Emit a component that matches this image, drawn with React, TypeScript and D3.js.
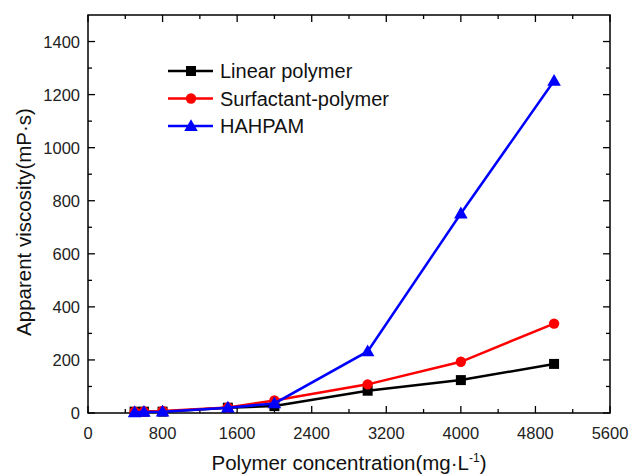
import React, { useRef, useEffect } from "react";
import * as d3 from "d3";

const concentrations = [500, 600, 800, 1500, 2000, 3000, 4000, 5000];
const linearPolymer = [5, 5, 5, 20, 26, 84, 124, 185];
const surfactantPolymer = [5, 6, 8, 21, 47, 108, 193, 337];
const hahpam = [3, 4, 5, 20, 36, 232, 752, 1252];
const seriesNames = ["Linear polymer", "Surfactant-polymer", "HAHPAM"];
const seriesColors = ["#000000", "#ff0000", "#0000ff"];
const seriesShapes = ["square", "circle", "triangle"];
const xTicks = [0, 800, 1600, 2400, 3200, 4000, 4800, 5600];
const yTicks = [0, 200, 400, 600, 800, 1000, 1200, 1400];

const W = 630;
const H = 476;
const margin = { top: 15, right: 20, bottom: 63, left: 88 };
const FONT = "Liberation Sans, Arial, sans-serif";

const App = () => {
  const ref = useRef<SVGSVGElement>(null);

  useEffect(() => {
    const svg = d3.select(ref.current);
    svg.selectAll("*").remove();

    const x = d3.scaleLinear().domain([0, 5600]).range([margin.left, W - margin.right]);
    const y = d3.scaleLinear().domain([0, 1500]).range([H - margin.bottom, margin.top]);
    const x0 = margin.left, x1 = W - margin.right;
    const y0 = H - margin.bottom, y1 = margin.top;

    // frame
    svg.append("rect")
      .attr("x", x0).attr("y", y1)
      .attr("width", x1 - x0).attr("height", y0 - y1)
      .attr("fill", "none").attr("stroke", "#000").attr("stroke-width", 1.5);

    const xMinor = d3.range(400, 5600, 800);
    const yMinor = d3.range(100, 1500, 200);

    // inward ticks on all four sides
    const tickG = svg.append("g").attr("stroke", "#000").attr("stroke-width", 1.3);
    xTicks.forEach((t) => {
      tickG.append("line").attr("x1", x(t)).attr("x2", x(t)).attr("y1", y0).attr("y2", y0 - 7);
      tickG.append("line").attr("x1", x(t)).attr("x2", x(t)).attr("y1", y1).attr("y2", y1 + 7);
    });
    xMinor.forEach((t) => {
      tickG.append("line").attr("x1", x(t)).attr("x2", x(t)).attr("y1", y0).attr("y2", y0 - 4);
      tickG.append("line").attr("x1", x(t)).attr("x2", x(t)).attr("y1", y1).attr("y2", y1 + 4);
    });
    yTicks.forEach((t) => {
      tickG.append("line").attr("x1", x0).attr("x2", x0 + 7).attr("y1", y(t)).attr("y2", y(t));
      tickG.append("line").attr("x1", x1).attr("x2", x1 - 7).attr("y1", y(t)).attr("y2", y(t));
    });
    yMinor.forEach((t) => {
      tickG.append("line").attr("x1", x0).attr("x2", x0 + 4).attr("y1", y(t)).attr("y2", y(t));
      tickG.append("line").attr("x1", x1).attr("x2", x1 - 4).attr("y1", y(t)).attr("y2", y(t));
    });

    // tick labels
    svg.append("g").selectAll("text").data(xTicks).join("text")
      .attr("x", (d) => x(d)).attr("y", y0 + 26)
      .attr("text-anchor", "middle")
      .attr("font-family", FONT).attr("font-size", 16.5).attr("fill", "#222")
      .text((d) => d);
    svg.append("g").selectAll("text").data(yTicks).join("text")
      .attr("x", x0 - 8).attr("y", (d) => y(d) + 6)
      .attr("text-anchor", "end")
      .attr("font-family", FONT).attr("font-size", 16.5).attr("fill", "#222")
      .text((d) => d);

    // axis titles
    const xt = svg.append("text")
      .attr("x", (x0 + x1) / 2).attr("y", H - 6)
      .attr("text-anchor", "middle")
      .attr("font-family", FONT).attr("font-size", 20.5).attr("fill", "#111");
    xt.append("tspan").text("Polymer concentration(mg·L");
    xt.append("tspan").attr("dy", -8).attr("font-size", 12).text("-1");
    xt.append("tspan").attr("dy", 8).text(")");

    svg.append("text")
      .attr("transform", `translate(31,${(y0 + y1) / 2 + 8}) rotate(-90)`)
      .attr("text-anchor", "middle")
      .attr("font-family", FONT).attr("font-size", 20.5).attr("fill", "#111")
      .text("Apparent viscosity(mP·s)");

    const series = [linearPolymer, surfactantPolymer, hahpam];
    const line = d3.line<number>().x((_, i) => x(concentrations[i])).y((d) => y(d));

    const symbolFor = (shape: string) => {
      if (shape === "square") return d3.symbol(d3.symbolSquare, 100);
      if (shape === "circle") return d3.symbol(d3.symbolCircle, 85);
      return d3.symbol(d3.symbolTriangle, 80);
    };

    series.forEach((vals, si) => {
      const g = svg.append("g");
      g.append("path").datum(vals)
        .attr("fill", "none").attr("stroke", seriesColors[si]).attr("stroke-width", 2.5)
        .attr("d", line);
      g.selectAll("path.pt").data(vals).join("path")
        .attr("class", "pt")
        .attr("transform", (d, i) => `translate(${x(concentrations[i])},${y(d) + (seriesShapes[si] === "triangle" ? 1 : 0)})`)
        .attr("fill", seriesColors[si])
        .attr("d", symbolFor(seriesShapes[si])());
    });

    // legend
    const lg = svg.append("g");
    seriesNames.forEach((name, i) => {
      const ly = 71 + i * 27.5;
      lg.append("line").attr("x1", 168).attr("x2", 213).attr("y1", ly).attr("y2", ly)
        .attr("stroke", seriesColors[i]).attr("stroke-width", 2.5);
      lg.append("path")
        .attr("transform", `translate(191,${ly + (seriesShapes[i] === "triangle" ? 1 : 0)})`)
        .attr("fill", seriesColors[i])
        .attr("d", symbolFor(seriesShapes[i])());
      lg.append("text").attr("x", 220).attr("y", ly + 7)
        .attr("font-family", FONT).attr("font-size", 20).attr("fill", "#111")
        .text(name);
    });
  }, []);

  return (
    <svg
      ref={ref}
      width={W}
      height={H}
      style={{ position: "absolute", left: 0, top: 0, background: "#fff" }}
    />
  );
};

export default App;
